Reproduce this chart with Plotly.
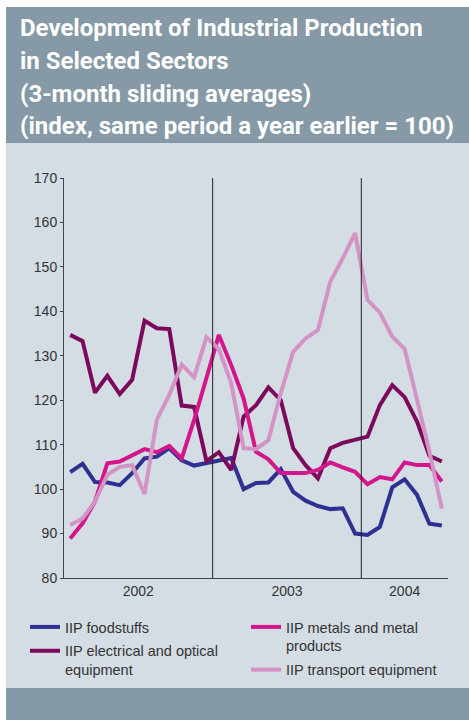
import plotly.graph_objects as go

# ---- data (monthly, Jan 2002 - Jul 2004, 3-month sliding averages) ----
months = [f"{y}-{m:02d}" for y in (2002, 2003, 2004) for m in range(1, 13)][:31]

foodstuffs = [103.8, 105.7, 101.6, 101.5, 100.9, 103.6, 106.9, 107.3, 109.2, 106.5,
              105.3, 105.8, 106.3, 107.0, 100.0, 101.4, 101.5, 104.5, 99.4, 97.4,
              96.2, 95.5, 95.7, 90.0, 89.7, 91.5, 100.4, 102.2, 98.7, 92.2, 91.8]
electrical = [134.7, 133.3, 121.7, 125.5, 121.4, 124.6, 137.9, 136.2, 136.0, 118.8,
              118.5, 106.3, 108.3, 104.3, 116.3, 118.9, 122.9, 120.0, 109.2, 105.4,
              102.4, 109.2, 110.4, 111.2, 111.8, 118.9, 123.4, 120.7, 115.2, 107.5, 106.2]
metals = [88.9, 92.3, 97.2, 105.8, 106.2, 107.7, 109.0, 108.3, 109.7, 106.9,
          115.5, 125.0, 134.7, 127.9, 120.4, 108.4, 106.7, 103.6, 103.5, 103.6,
          104.3, 106.0, 104.9, 103.9, 101.1, 102.7, 102.2, 106.0, 105.4, 105.4, 101.7]
transport = [91.9, 93.4, 97.2, 103.2, 105.0, 105.4, 98.9, 115.7, 121.2, 128.0,
             125.2, 134.2, 131.5, 123.8, 109.2, 109.0, 111.0, 121.6, 130.9, 133.9,
             135.8, 146.7, 151.9, 157.6, 142.6, 139.7, 134.3, 131.5, 120.1, 108.4, 95.6]

year_labels = ["2002", "2003", "2004"]
series_names = ["IIP foodstuffs", "IIP electrical and optical<br>equipment",
                "IIP metals and metal<br>products", "IIP transport equipment"]

# ---- styling ----
W, H = 469, 720
L, R, T, B = 64, 448, 178, 578          # plot area in pixels
PW, PH = R - L, B - T

def px(x):
    return (x - L) / PW

def py(y):
    return (B - y) / PH

title_bg = "#8599a6"
panel_bg = "#d4dde4"
colors = ["#2e3192", "#7b0a5c", "#d4168c", "#d393c4"]

xpos = [i + 0.5 for i in range(len(months))]

fig = go.Figure()
all_series = [foodstuffs, electrical, metals, transport]
legend_of = ["legend", "legend", "legend2", "legend2"]
for k in [0, 1, 2, 3]:
    fig.add_trace(go.Scatter(
        x=xpos, y=all_series[k], mode="lines", name=series_names[k],
        line=dict(color=colors[k], width=4), legend=legend_of[k],
        legendgroup=str(k), customdata=months,
        hovertemplate="%{customdata}: %{y}<extra></extra>"))

shapes = [
    dict(type="rect", xref="paper", yref="paper", x0=px(6), x1=px(W + 2), y0=py(143), y1=py(7),
         fillcolor=title_bg, line=dict(width=0), layer="below"),
    dict(type="rect", xref="paper", yref="paper", x0=px(6), x1=px(W + 2), y0=py(688), y1=py(143),
         fillcolor=panel_bg, line=dict(width=0), layer="below"),
    dict(type="rect", xref="paper", yref="paper", x0=px(6), x1=px(W + 2), y0=py(H + 2), y1=py(688),
         fillcolor=title_bg, line=dict(width=0), layer="below"),
]
for xb in (12, 24):
    shapes.append(dict(type="line", xref="x", yref="paper", x0=xb, x1=xb, y0=0, y1=1,
                       line=dict(color="#222222", width=1)))

title_lines = ["Development of Industrial Production", "in Selected Sectors",
               "(3-month sliding averages)", "(index, same period a year earlier = 100)"]
title_y = [28, 61, 94, 126]
annotations = []
for t, yy in zip(title_lines, title_y):
    annotations.append(dict(text=t, xref="paper", yref="paper", x=px(18), y=py(yy),
                            xanchor="left", yanchor="middle", showarrow=False,
                            font=dict(family="Roboto", size=24, color="white", weight="bold")))

fig.update_layout(
    width=W, height=H, autosize=False,
    margin=dict(l=L, r=W - R, t=T, b=H - B, pad=0),
    paper_bgcolor="white", plot_bgcolor="rgba(0,0,0,0)",
    font=dict(family="Liberation Sans", size=13, color="#333333"),
    shapes=shapes, annotations=annotations,
    xaxis=dict(range=[0, 31], showgrid=False, zeroline=False, showline=True,
               linecolor="#444444", linewidth=1, ticks="",
               tickvals=[6, 18, 27.5], ticktext=year_labels,
               tickfont=dict(size=14, color="#333333")),
    yaxis=dict(range=[80, 170], dtick=10, showgrid=False, zeroline=False, showline=True,
               linecolor="#444444", linewidth=1, ticks="outside", ticklen=3,
               tickcolor="#444444", tickfont=dict(size=14, color="#333333")),
    legend=dict(x=px(25), y=py(611), xanchor="left", yanchor="top",
                bgcolor="rgba(0,0,0,0)", font=dict(size=14.5, color="#333333"),
                valign="top", tracegroupgap=2),
    legend2=dict(x=px(246), y=py(611), xanchor="left", yanchor="top",
                 bgcolor="rgba(0,0,0,0)", font=dict(size=14.5, color="#333333"),
                 valign="top", tracegroupgap=2),
    showlegend=True,
)

fig.write_html("out.html")
